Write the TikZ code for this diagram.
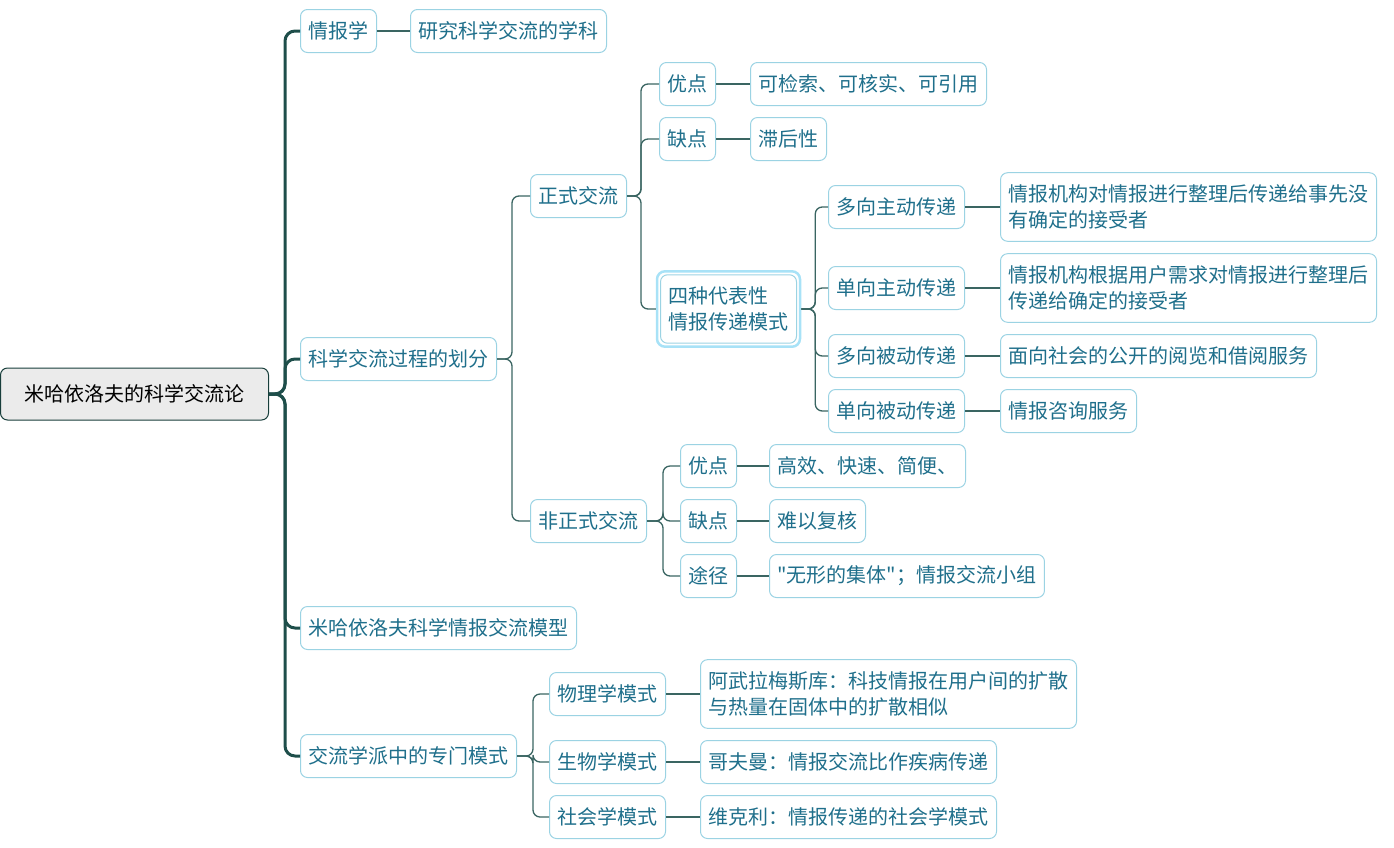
\documentclass[tikz,border=0pt]{standalone}
\usepackage{fontspec}
\usepackage{tikz}
\usetikzlibrary{fit}
\newfontfamily\cjk{Noto Sans CJK SC}
\definecolor{txt}{HTML}{1F6F8B}
\definecolor{bdr}{HTML}{9BD3E3}
\definecolor{trk}{HTML}{1E4E4A}
\definecolor{brn}{HTML}{3A6562}
\definecolor{rootFill}{HTML}{EBEBEB}
\definecolor{selC}{HTML}{A8E2F7}
\tikzset{
  % mind-map topics: one shared look, widths come from the text
  T/.style={draw=bdr, line width=1pt, rounded corners=7pt, text=txt,
    font={\cjk\fontsize{20pt}{26pt}\selectfont}, anchor=west,
    minimum height=43pt, inner xsep=8pt, inner ysep=5pt, align=left},
  T2/.style={T, inner ysep=12pt},   % two-line topics
  R/.style={T, draw=trk!80!black, fill=rootFill, text=black,
    minimum width=268pt, minimum height=52pt, align=center},
  selbox/.style={draw=selC, line width=2.5pt, rounded corners=8pt, inner sep=3pt},
  % connectors
  tk/.style={draw=trk, line width=3pt, rounded corners=10pt},
  br/.style={draw=brn, line width=1.3pt, rounded corners=7pt},
}

\begin{document}
\begin{tikzpicture}[x=1pt, y=-1pt]
\useasboundingbox (0,0) rectangle (1394,847);

% =====================================================================
% ROOT + FIRST LEVEL
% =====================================================================
\node[R] (root) at (0,394) {米哈依洛夫的科学交流论};

\node[T] (qbx) at (300,31) {情报学};
\node[T] (hf) at (300,359) {科学交流过程的划分};
\node[T] (mx) at (300,628) {米哈依洛夫科学情报交流模型};
\node[T] (zm) at (300,756) {交流学派中的专门模式};

\foreach \c in {qbx,hf,mx,zm}
  \draw[tk] (root.east) -- ++(16,0) |- (\c.west);

\node[T] (qbxDef) at (410,31) {研究科学交流的学科};
\draw[br] (qbx.east) -- (qbxDef.west);

% =====================================================================
% 科学交流过程的划分
% =====================================================================
\node[T] (zs) at (530,196) {正式交流};
\node[T] (fz) at (530,521) {非正式交流};
\foreach \c in {zs,fz}
  \draw[br] (hf.east) -- ++(15,0) |- (\c.west);

% ── 正式交流 ─────────────────────────────────────────────────────────
\node[T] (zsYd) at (659,84) {优点};
\node[T] (zsQd) at (659,139) {缺点};
\node[T2] (four) at (660,309) {四种代表性\\情报传递模式};
\node[selbox, fit=(four)] (fourSel) {};
\draw[br] (zs.east) -- ++(14,0) |- (zsYd.west);
\draw[br] (zs.east) -- ++(14,0) |- (zsQd.west);
\draw[br] (zs.east) -- ++(14,0) |- (fourSel.west);

\node[T] (zsYdTx) at (750,84) {可检索、可核实、可引用};
\node[T] (zsQdTx) at (750,139) {滞后性};
\draw[br] (zsYd.east) -- (zsYdTx.west);
\draw[br] (zsQd.east) -- (zsQdTx.west);

% four transfer modes
\node[T] (dz) at (828,207) {多向主动传递};
\node[T] (xz) at (828,288) {单向主动传递};
\node[T] (db) at (828,356) {多向被动传递};
\node[T] (xb) at (828,411) {单向被动传递};
\foreach \c in {dz,xz,db,xb}
  \draw[br] (fourSel.east) -- ++(14,0) |- (\c.west);

\node[T2] (dzTx) at (1000,207) {情报机构对情报进行整理后传递给事先没\\有确定的接受者};
\node[T2] (xzTx) at (1000,288) {情报机构根据用户需求对情报进行整理后\\传递给确定的接受者};
\node[T] (dbTx) at (1000,356) {面向社会的公开的阅览和借阅服务};
\node[T] (xbTx) at (1000,411) {情报咨询服务};
\foreach \c in {dz,xz,db,xb}
  \draw[br] (\c.east) -- (\c Tx.west);

% ── 非正式交流 ───────────────────────────────────────────────────────
\node[T] (fzYd) at (680,466) {优点};
\node[T] (fzQd) at (680,521) {缺点};
\node[T] (fzTj) at (680,576) {途径};
\foreach \c in {fzYd,fzQd,fzTj}
  \draw[br] (fz.east) -- ++(16,0) |- (\c.west);

\node[T] (fzYdTx) at (769,466) {高效、快速、简便、};
\node[T] (fzQdTx) at (769,521) {难以复核};
\node[T] (fzTjTx) at (769,576) {"无形的集体"；情报交流小组};
\foreach \c in {fzYd,fzQd,fzTj}
  \draw[br] (\c.east) -- (\c Tx.west);

% =====================================================================
% 交流学派中的专门模式
% =====================================================================
\node[T] (wl) at (549,694) {物理学模式};
\node[T] (sw) at (549,762) {生物学模式};
\node[T] (sh) at (549,817) {社会学模式};
\foreach \c in {wl,sw,sh}
  \draw[br] (zm.east) -- ++(16,0) |- (\c.west);

\node[T2] (wlTx) at (700,694) {阿武拉梅斯库：科技情报在用户间的扩散\\与热量在固体中的扩散相似};
\node[T] (swTx) at (700,762) {哥夫曼：情报交流比作疾病传递};
\node[T] (shTx) at (700,817) {维克利：情报传递的社会学模式};
\foreach \c in {wl,sw,sh}
  \draw[br] (\c.east) -- (\c Tx.west);

\end{tikzpicture}
\end{document}
